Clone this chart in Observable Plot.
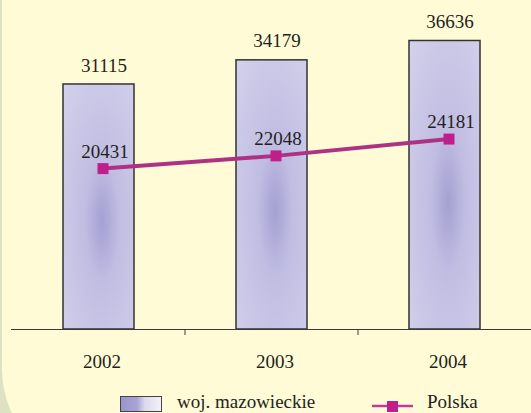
<!DOCTYPE html>
<html>
<head>
<meta charset="utf-8">
<script src="https://cdn.jsdelivr.net/npm/d3@7"></script>
<script src="https://cdn.jsdelivr.net/npm/@observablehq/plot@0.6"></script>
<style>
  html, body { margin: 0; padding: 0; }
  #frame { position: relative; width: 531px; height: 413px; overflow: hidden; background: #dde2c3; font-family: "Liberation Serif", "DejaVu Serif", serif; color: #231f20; }
  #card { position: absolute; left: 2px; top: -20px; width: 620px; height: 493px; background: #fffbd6; border-bottom-left-radius: 104px; }
  #chart { position: absolute; left: 0; top: 0; }
  .lg { position: absolute; font-size: 19px; line-height: 22px; white-space: nowrap; }
</style>
</head>
<body>
<div id="frame">
  <div id="card"></div>
  <div id="chart"></div>
  <div class="lg" id="sw" style="left:120px; top:396px; width:40px; height:14px; border:1.5px solid #444; background: linear-gradient(to right, #9a96cc 0%, #a7a3d4 40%, #dcdbef 60%, #f1f1f9 100%);"></div>
  <div class="lg" id="lg1" style="left:177px; top:391px;"></div>
  <svg class="lg" style="left:368px; top:396px;" width="50" height="20">
    <line x1="4" x2="45" y1="10" y2="10" stroke="#c2399a" stroke-width="2.5"></line>
    <rect x="19" y="5" width="11" height="11" fill="#bf1f8b"></rect>
  </svg>
  <div class="lg" id="lg2" style="left:427px; top:391px;"></div>
</div>
<script>
const years = ["2002", "2003", "2004"];
const mazowieckie = [31115, 34179, 36636];
const polska = [20431, 22048, 24181];
const seriesNames = ["woj. mazowieckie", "Polska"];

const bars = years.map((y, i) => ({year: y, value: mazowieckie[i]}));
const pts = years.map((y, i) => ({year: y, value: polska[i]}));

document.getElementById("lg1").textContent = seriesNames[0];
document.getElementById("lg2").textContent = seriesNames[1];

const boundaryTicks = (index, scales) => {
  const g = d3.create("svg:g");
  const y0 = scales.y(0);
  years.slice(1).forEach(yr => {
    const px = scales.x(yr);
    g.append("line").attr("x1", px).attr("x2", px).attr("y1", y0).attr("y2", y0 + 6)
      .attr("stroke", "#3a3a3a").attr("stroke-width", 1);
  });
  return g.node();
};

const chart = Plot.plot({
  width: 531,
  height: 380,
  marginLeft: 11,
  marginRight: 0,
  marginTop: 14,
  marginBottom: 51,
  style: {background: "transparent", fontFamily: "'Liberation Serif', serif", fontSize: "19px", color: "#231f20", overflow: "visible"},
  x: {domain: years, padding: 0, axis: null},
  y: {domain: [0, 40000], axis: null},
  marks: [
    Plot.barY(bars, {x: "year", y: "value", insetLeft: 51, insetRight: 51, fill: "url(#barGrad)", stroke: "#333", strokeWidth: 1.5}),
    Plot.ruleY([0], {stroke: "#3a3a3a", strokeWidth: 1}),
    boundaryTicks,
    Plot.axisX({tickSize: 0, tickPadding: 25, dx: 3, fontSize: 19, fill: "#231f20", label: null}),
    Plot.text(bars, {x: "year", y: "value", text: d => String(d.value), dy: -19, dx: 5, fontSize: 19, fill: "#231f20"}),
    Plot.line(pts, {x: "year", y: "value", stroke: "#ad3283", strokeWidth: 4, dx: 4}),
    Plot.dot(pts, {x: "year", y: "value", symbol: "square", r: 6.2, fill: "#bf1f8b", stroke: "none", dx: 4}),
    Plot.text(pts, {x: "year", y: "value", text: d => String(d.value), dy: -17, dx: 6, fontSize: 19, fill: "#231f20"})
  ]
});

const svg = d3.select(chart);
const defs = svg.insert("defs", ":first-child");
const grad = defs.append("radialGradient").attr("id", "barGrad")
  .attr("cx", 0.55).attr("cy", 0.56).attr("r", 0.8).attr("fx", 0.55).attr("fy", 0.56);
grad.append("stop").attr("offset", "0%").attr("stop-color", "#a4a0d2");
grad.append("stop").attr("offset", "30%").attr("stop-color", "#c0bde2");
grad.append("stop").attr("offset", "100%").attr("stop-color", "#d4d2ec");

document.getElementById("chart").appendChild(chart);
</script>
</body>
</html>
